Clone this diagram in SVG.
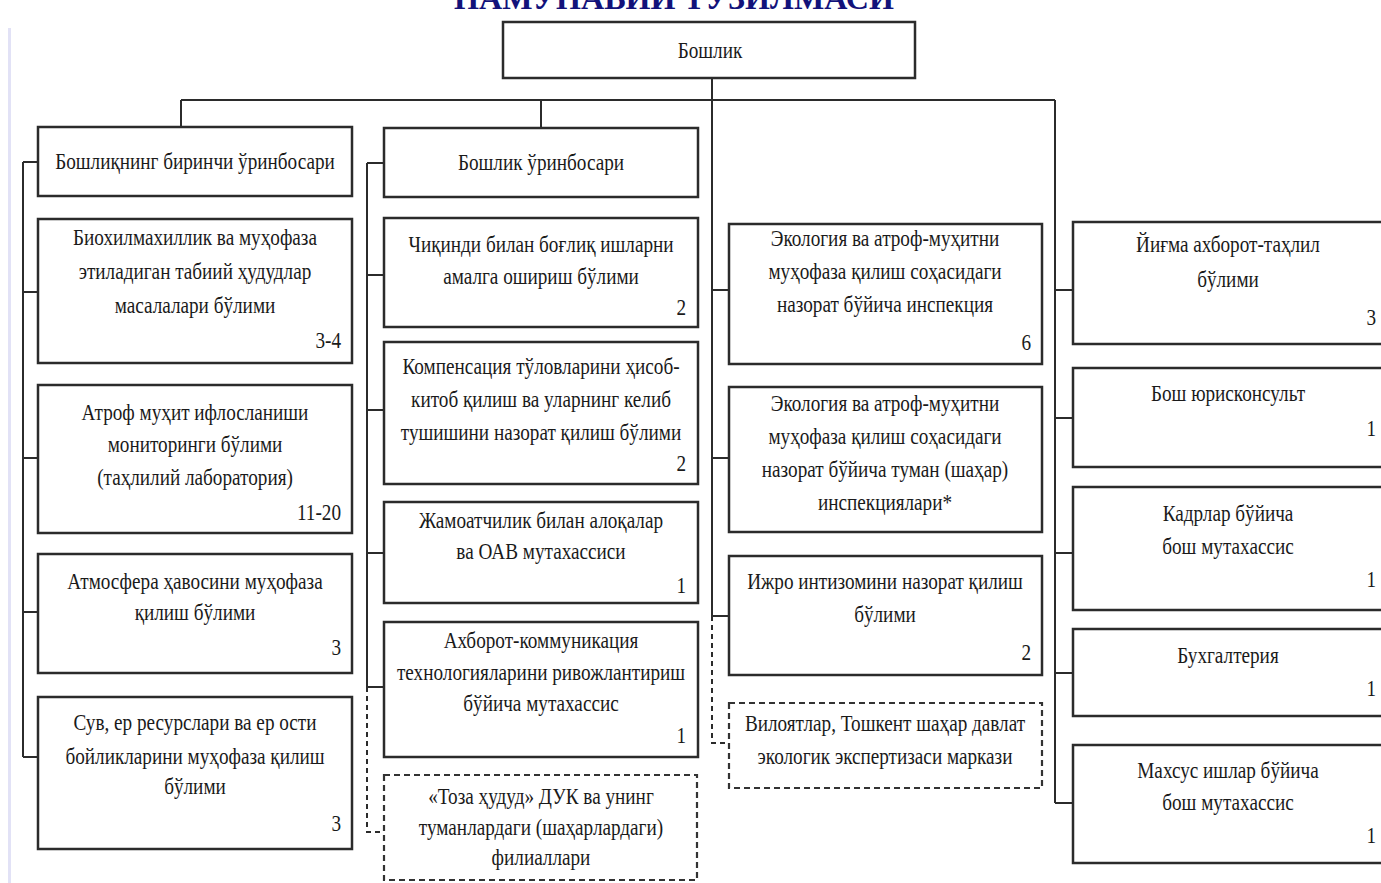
<svg xmlns="http://www.w3.org/2000/svg" width="1381" height="883" viewBox="0 0 1381 883">
<style>
.box{fill:#fff;stroke:#2b2b2b;stroke-width:2.5}
.dbox{fill:#fff;stroke:#333;stroke-width:2.2;stroke-dasharray:6 4}
.ln{stroke:#2b2b2b;stroke-width:2;fill:none}
.dl{stroke-dasharray:5 4}
.t{font-family:"Liberation Serif","Times New Roman",serif;font-size:24px;fill:#1a1a1a;text-anchor:middle}
.n{text-anchor:end}
.title{font-family:"Liberation Serif","Times New Roman",serif;font-size:32px;font-weight:bold;fill:#12127a;text-anchor:middle}
</style>
<rect width="1381" height="883" fill="#fff"/>
<line x1="9.5" y1="28" x2="9.5" y2="883" stroke="#e2e2f6" stroke-width="3"/>
<text class="title" x="674" y="9" textLength="440" lengthAdjust="spacingAndGlyphs">НАМУНАВИЙ ТУЗИЛМАСИ</text>

<g id="connectors">
<path class="ln" d="M712 78V616M181 100H1055M181 100V127M541 100V128M1055 100V803"/>
<path class="ln" d="M23 162V757M23 162H38M23 292H38M23 458H38M23 612H38M23 757H38"/>
<path class="ln" d="M367 163V687M367 163H384M367 275H384M367 410H384M367 553H384M367 687H384"/>
<path class="ln dl" d="M367 687V832H384"/>
<path class="ln" d="M712 290H729M712 458H729M712 616H729"/>
<path class="ln dl" d="M712 616V743H729"/>
<path class="ln" d="M1055 290H1073M1055 418H1073M1055 553H1073M1055 673H1073M1055 803H1073"/>
</g>

<g id="boss"><rect class="box" x="503" y="22" width="412" height="56"/>
<text class="t" transform="translate(710 0) scale(0.8 1)"><tspan x="0" y="58">Бошлик</tspan></text></g>

<g id="first-deputy"><rect class="box" x="38" y="127" width="314" height="69"/>
<text class="t" transform="translate(195 0) scale(0.8 1)"><tspan x="0" y="169">Бошлиқнинг биринчи ўринбосари</tspan></text></g>

<g id="biodiversity"><rect class="box" x="38" y="219" width="314" height="144"/>
<text class="t" transform="translate(195 0) scale(0.8 1)"><tspan x="0" y="245">Биохилмахиллик ва муҳофаза</tspan><tspan x="0" y="279">этиладиган табиий ҳудудлар</tspan><tspan x="0" y="313">масалалари бўлими</tspan></text>
<text class="t n" transform="translate(341 0) scale(0.8 1)" x="0" y="348">3-4</text></g>

<g id="monitoring"><rect class="box" x="38" y="385" width="314" height="148"/>
<text class="t" transform="translate(195 0) scale(0.8 1)"><tspan x="0" y="420">Атроф муҳит ифлосланиши</tspan><tspan x="0" y="452">мониторинги бўлими</tspan><tspan x="0" y="485">(таҳлилий лаборатория)</tspan></text>
<text class="t n" transform="translate(341 0) scale(0.8 1)" x="0" y="520">11-20</text></g>

<g id="atmosphere"><rect class="box" x="38" y="554" width="314" height="119"/>
<text class="t" transform="translate(195 0) scale(0.8 1)"><tspan x="0" y="589">Атмосфера ҳавосини муҳофаза</tspan><tspan x="0" y="620">қилиш бўлими</tspan></text>
<text class="t n" transform="translate(341 0) scale(0.8 1)" x="0" y="655">3</text></g>

<g id="water"><rect class="box" x="38" y="697" width="314" height="152"/>
<text class="t" transform="translate(195 0) scale(0.8 1)"><tspan x="0" y="730">Сув, ер ресурслари ва ер ости</tspan><tspan x="0" y="764">бойликларини муҳофаза қилиш</tspan><tspan x="0" y="794">бўлими</tspan></text>
<text class="t n" transform="translate(341 0) scale(0.8 1)" x="0" y="831">3</text></g>

<g id="deputy"><rect class="box" x="384" y="128" width="314" height="69"/>
<text class="t" transform="translate(541 0) scale(0.8 1)"><tspan x="0" y="170">Бошлик ўринбосари</tspan></text></g>

<g id="waste"><rect class="box" x="384" y="218" width="314" height="109"/>
<text class="t" transform="translate(541 0) scale(0.8 1)"><tspan x="0" y="252">Чиқинди билан боғлиқ ишларни</tspan><tspan x="0" y="284">амалга ошириш бўлими</tspan></text>
<text class="t n" transform="translate(686 0) scale(0.8 1)" x="0" y="315">2</text></g>

<g id="compensation"><rect class="box" x="384" y="342" width="314" height="142"/>
<text class="t" transform="translate(541 0) scale(0.8 1)"><tspan x="0" y="374">Компенсация тўловларини ҳисоб-</tspan><tspan x="0" y="407">китоб қилиш ва уларнинг келиб</tspan><tspan x="0" y="440">тушишини назорат қилиш бўлими</tspan></text>
<text class="t n" transform="translate(686 0) scale(0.8 1)" x="0" y="471">2</text></g>

<g id="pr"><rect class="box" x="384" y="502" width="314" height="101"/>
<text class="t" transform="translate(541 0) scale(0.8 1)"><tspan x="0" y="528">Жамоатчилик билан алоқалар</tspan><tspan x="0" y="559">ва ОАВ мутахассиси</tspan></text>
<text class="t n" transform="translate(686 0) scale(0.8 1)" x="0" y="593">1</text></g>

<g id="ict"><rect class="box" x="384" y="622" width="314" height="135"/>
<text class="t" transform="translate(541 0) scale(0.8 1)"><tspan x="0" y="648">Ахборот-коммуникация</tspan><tspan x="0" y="680">технологияларини ривожлантириш</tspan><tspan x="0" y="711">бўйича мутахассис</tspan></text>
<text class="t n" transform="translate(686 0) scale(0.8 1)" x="0" y="743">1</text></g>

<g id="toza"><rect class="dbox" x="384" y="775" width="313" height="105"/>
<text class="t" transform="translate(541 0) scale(0.8 1)"><tspan x="0" y="804">«Тоза ҳудуд» ДУК ва унинг</tspan><tspan x="0" y="835">туманлардаги (шаҳарлардаги)</tspan><tspan x="0" y="865">филиаллари</tspan></text></g>

<g id="inspection"><rect class="box" x="729" y="224" width="313" height="140"/>
<text class="t" transform="translate(885 0) scale(0.8 1)"><tspan x="0" y="246">Экология ва атроф-муҳитни</tspan><tspan x="0" y="279">муҳофаза қилиш соҳасидаги</tspan><tspan x="0" y="312">назорат бўйича инспекция</tspan></text>
<text class="t n" transform="translate(1031 0) scale(0.8 1)" x="0" y="350">6</text></g>

<g id="district-inspections"><rect class="box" x="729" y="387" width="313" height="145"/>
<text class="t" transform="translate(885 0) scale(0.8 1)"><tspan x="0" y="411">Экология ва атроф-муҳитни</tspan><tspan x="0" y="444">муҳофаза қилиш соҳасидаги</tspan><tspan x="0" y="477">назорат бўйича туман (шаҳар)</tspan><tspan x="0" y="510">инспекциялари*</tspan></text></g>

<g id="discipline"><rect class="box" x="729" y="556" width="313" height="119"/>
<text class="t" transform="translate(885 0) scale(0.8 1)"><tspan x="0" y="589">Ижро интизомини назорат қилиш</tspan><tspan x="0" y="622">бўлими</tspan></text>
<text class="t n" transform="translate(1031 0) scale(0.8 1)" x="0" y="660">2</text></g>

<g id="expertise"><rect class="dbox" x="729" y="703" width="313" height="85"/>
<text class="t" transform="translate(885 0) scale(0.8 1)"><tspan x="0" y="731">Вилоятлар, Тошкент шаҳар давлат</tspan><tspan x="0" y="764">экологик экспертизаси маркази</tspan></text></g>

<g id="analytics"><rect class="box" x="1073" y="222" width="315" height="122"/>
<text class="t" transform="translate(1228 0) scale(0.8 1)"><tspan x="0" y="252">Йиғма ахборот-таҳлил</tspan><tspan x="0" y="287">бўлими</tspan></text>
<text class="t n" transform="translate(1376 0) scale(0.8 1)" x="0" y="325">3</text></g>

<g id="legal"><rect class="box" x="1073" y="368" width="315" height="99"/>
<text class="t" transform="translate(1228 0) scale(0.8 1)"><tspan x="0" y="401">Бош юрисконсульт</tspan></text>
<text class="t n" transform="translate(1376 0) scale(0.8 1)" x="0" y="436">1</text></g>

<g id="hr"><rect class="box" x="1073" y="487" width="315" height="123"/>
<text class="t" transform="translate(1228 0) scale(0.8 1)"><tspan x="0" y="521">Кадрлар бўйича</tspan><tspan x="0" y="554">бош мутахассис</tspan></text>
<text class="t n" transform="translate(1376 0) scale(0.8 1)" x="0" y="587">1</text></g>

<g id="accounting"><rect class="box" x="1073" y="629" width="315" height="87"/>
<text class="t" transform="translate(1228 0) scale(0.8 1)"><tspan x="0" y="663">Бухгалтерия</tspan></text>
<text class="t n" transform="translate(1376 0) scale(0.8 1)" x="0" y="696">1</text></g>

<g id="special"><rect class="box" x="1073" y="745" width="315" height="118"/>
<text class="t" transform="translate(1228 0) scale(0.8 1)"><tspan x="0" y="778">Махсус ишлар бўйича</tspan><tspan x="0" y="810">бош мутахассис</tspan></text>
<text class="t n" transform="translate(1376 0) scale(0.8 1)" x="0" y="843">1</text></g>
</svg>
